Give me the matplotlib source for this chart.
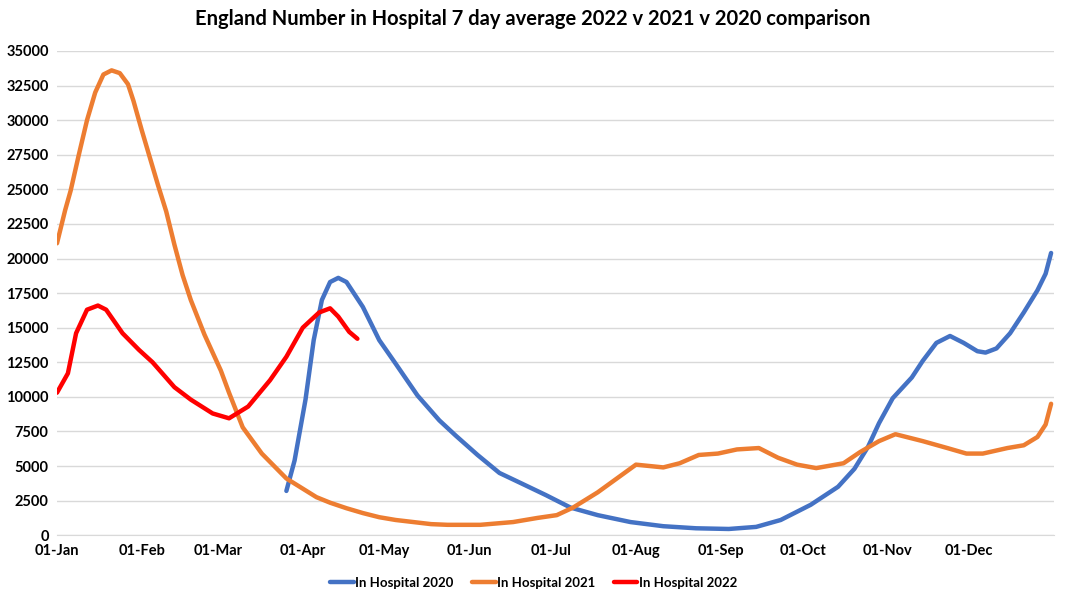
import matplotlib.pyplot as plt
import numpy as np

plt.rcParams['font.family'] = ['Lato', 'DejaVu Sans']

# day of year (0 = 01-Jan) and number in hospital
days_2020 = [84, 87, 91, 94, 97, 100, 103, 106, 112, 118, 124, 132, 140, 146, 154, 162, 170, 179,
             188, 198, 210, 222, 234, 246, 256, 265, 276, 286, 292, 297, 301, 306, 313, 317, 322,
             327, 332, 337, 340, 344, 349, 354, 359, 362, 364]
hosp_2020 = [3200, 5400, 9800, 14100, 17000, 18300, 18600, 18300, 16500, 14100, 12400, 10100, 8300,
             7200, 5800, 4500, 3750, 2900, 2000, 1450, 950, 650, 500, 450, 600, 1100, 2200, 3500,
             4800, 6400, 8100, 9900, 11400, 12600, 13900, 14400, 13900, 13300, 13200, 13500, 14600,
             16100, 17700, 18900, 20400]

days_2021 = [0, 3, 5, 8, 11, 14, 17, 20, 23, 26, 28, 31, 34, 37, 40, 43, 46, 49, 54, 60, 63, 68,
             75, 84, 95, 100, 106, 112, 118, 124, 137, 143, 155, 167, 176, 183, 189, 198, 205, 212,
             222, 228, 235, 242, 249, 257, 264, 271, 278, 288, 294, 301, 307, 317, 326, 333, 339,
             348, 354, 359, 362, 364]
hosp_2021 = [21100, 23500, 24900, 27500, 30000, 32000, 33300, 33600, 33400, 32600, 31400, 29300,
             27300, 25300, 23400, 21000, 18800, 17000, 14500, 11900, 10300, 7800, 5900, 4100, 2750,
             2350, 1950, 1600, 1300, 1100, 800, 750, 750, 950, 1250, 1450, 2000, 3100, 4100, 5100,
             4900, 5200, 5800, 5900, 6200, 6300, 5600, 5100, 4850, 5200, 6000, 6800, 7300, 6800,
             6300, 5900, 5900, 6300, 6500, 7100, 8000, 9500]

days_2022 = [0, 4, 7, 11, 15, 18, 24, 30, 35, 43, 49, 57, 63, 70, 78, 84, 90, 96, 100, 103, 107, 110]
hosp_2022 = [10300, 11700, 14600, 16300, 16600, 16300, 14600, 13400, 12500, 10700, 9800, 8800, 8450,
             9300, 11200, 12900, 15000, 16100, 16400, 15800, 14700, 14200]

month_starts = [0, 31, 59, 90, 120, 151, 181, 212, 243, 273, 304, 334]
month_labels = ['01-Jan', '01-Feb', '01-Mar', '01-Apr', '01-May', '01-Jun',
                '01-Jul', '01-Aug', '01-Sep', '01-Oct', '01-Nov', '01-Dec']

fig = plt.figure(figsize=(10.65, 6), dpi=100)
ax = fig.add_axes([0.0535, 0.108, 0.936, 0.807])

line_kw = dict(lw=3.2, solid_capstyle='round', solid_joinstyle='round')
ax.plot(days_2020, hosp_2020, color='#4472C4', label='In Hospital 2020', **line_kw)
ax.plot(days_2021, hosp_2021, color='#ED7D31', label='In Hospital 2021', **line_kw)
ax.plot(days_2022, hosp_2022, color='#FF0000', label='In Hospital 2022', **line_kw)

ax.set_xlim(0, 365)
ax.set_ylim(0, 35000)
ax.set_yticks(np.arange(0, 35001, 2500))
ax.set_xticks(month_starts)
ax.set_xticklabels(month_labels)
ax.grid(axis='y', color='#D9D9D9', lw=1)
ax.set_axisbelow(True)
for s in ['top', 'right', 'left']:
    ax.spines[s].set_visible(False)
ax.spines['bottom'].set_color('#D9D9D9')
ax.tick_params(length=0, labelsize=10.5, pad=6)
for lab in ax.get_xticklabels() + ax.get_yticklabels():
    lab.set_fontweight('bold')

fig.suptitle('England Number in Hospital 7 day average 2022 v 2021 v 2020 comparison',
             fontsize=14.5, fontweight='bold', y=0.985)

leg = ax.legend(loc='upper center', bbox_to_anchor=(0.478, -0.062), ncol=3, frameon=False,
                handlelength=1.8, handletextpad=0.1, columnspacing=1.4,
                prop={'weight': 'bold', 'size': 9.5})

fig.savefig('out.png', dpi=100)
